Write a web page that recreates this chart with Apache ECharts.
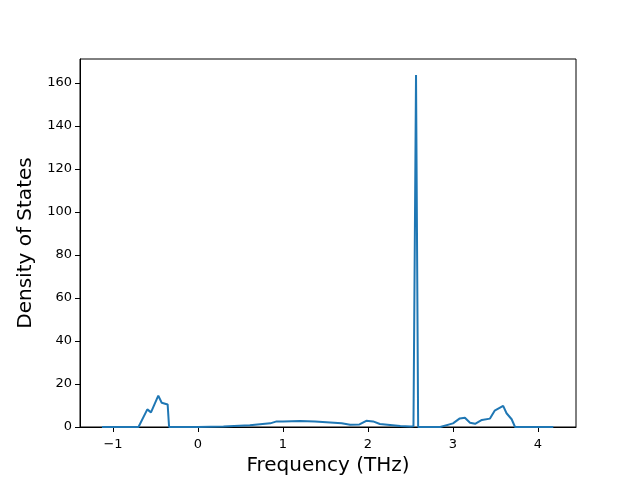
<!DOCTYPE html>
<html><head><meta charset="utf-8">
<script src="https://cdn.jsdelivr.net/npm/echarts@6/dist/echarts.min.js"></script>
<style>html,body{margin:0;padding:0;background:#fff}#c{width:640px;height:480px}</style>
</head><body><div id="c"></div>
<script>
var freq = [-1.13,-0.70,-0.596,-0.553,-0.467,-0.427,-0.357,-0.34,0.0,0.3,0.61,0.85,0.925,1.0,1.2,1.376,1.396,1.69,1.79,1.9,1.98,2.06,2.14,2.38,2.50,2.535,2.565,2.59,2.85,3.0,3.08,3.14,3.2,3.26,3.34,3.435,3.49,3.59,3.63,3.69,3.73,4.18];
var dos  = [0,0,8.2,6.8,14.6,11.3,10.5,0,0,0.2,0.8,1.7,2.6,2.6,2.8,2.6,1.7,1.7,1.0,1.2,2.9,2.6,1.4,0.5,0.2,0.3,163.8,0,0,1.7,4.0,4.3,2.0,1.5,3.3,3.9,7.6,9.8,6.4,3.6,0,0];
var xTicks = [-1,0,1,2,3,4];
var yTicks = [0,20,40,60,80,100,120,140,160];

var chart = echarts.init(document.getElementById('c'));
var pts = freq.map(function(f,i){return [f, dos[i]];});
var font = 'DejaVu Sans';
chart.setOption({
  animation:false,
  grid:{left:80,right:64,top:59,bottom:53,containLabel:false,outerBoundsMode:'none',show:true,borderColor:'#000',borderWidth:1,backgroundColor:'transparent'},
  xAxis:{type:'value',min:-1.388,max:4.447,
    name:'Frequency (THz)',nameLocation:'middle',nameGap:29,
    nameTextStyle:{fontFamily:font,fontSize:20,color:'#000'},
    axisLine:{show:true,onZero:false,lineStyle:{color:'#000',width:1}},
    axisTick:{show:true,inside:false,length:5,customValues:xTicks,lineStyle:{color:'#000'}},
    axisLabel:{customValues:xTicks,margin:11,fontFamily:font,fontSize:13,color:'#000',
      formatter:function(v){return (v<0?'\u2212':'')+Math.abs(v);}},
    splitLine:{show:false}},
  yAxis:{type:'value',min:0,max:171.2,
    name:'Density of States',nameLocation:'middle',nameGap:43,
    nameTextStyle:{fontFamily:font,fontSize:20,color:'#000'},
    axisLine:{show:true,onZero:false,lineStyle:{color:'#000',width:1}},
    axisTick:{show:true,inside:false,length:5,customValues:yTicks,lineStyle:{color:'#000'}},
    axisLabel:{customValues:yTicks,margin:8,fontFamily:font,fontSize:13,color:'#000'},
    splitLine:{show:false}},
  series:[{type:'line',data:pts,showSymbol:false,symbol:'none',
    lineStyle:{color:'#1f77b4',width:2},clip:true}]
});
</script></body></html>
